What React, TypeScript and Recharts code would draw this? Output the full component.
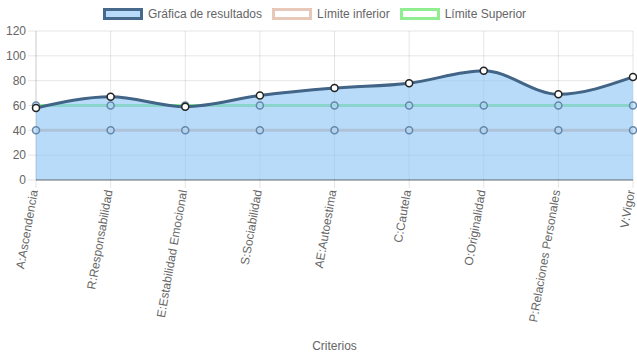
import { AreaChart, Area, XAxis, YAxis, CartesianGrid } from "recharts";

const criterios = [
  "A:Ascendencia",
  "R:Responsabilidad",
  "E:Estabilidad Emocional",
  "S:Sociabilidad",
  "AE:Autoestima",
  "C:Cautela",
  "O:Originalidad",
  "P:Relaciones Personales",
  "V:Vigor",
];
const resultados = [58, 67, 59, 68, 74, 78, 88, 69, 83];
const limiteInferior = [40, 40, 40, 40, 40, 40, 40, 40, 40];
const limiteSuperior = [60, 60, 60, 60, 60, 60, 60, 60, 60];
const yTicks = [0, 20, 40, 60, 80, 100, 120];

const data = criterios.map((name, i) => ({
  name,
  resultados: resultados[i],
  inferior: limiteInferior[i],
  superior: limiteSuperior[i],
}));

const FONT = "Arial, 'Liberation Sans', sans-serif";
const TEXT = "#666";

// limit dots sit under the results fill in the original, so they look tinted
const limitDot = { r: 3.5, fill: "rgb(183,219,249)", stroke: "rgb(100,135,170)", strokeWidth: 1.5 };

const legendItems = [
  { label: "Gráfica de resultados", fill: "rgba(135,195,245,0.6)", border: "rgb(70,105,140)" },
  { label: "Límite inferior", fill: "#fff", border: "rgb(232,200,185)" },
  { label: "Límite Superior", fill: "#fff", border: "rgb(144,238,144)" },
];

const AngledTick = (props: any) => {
  const { x, y, payload } = props;
  return (
    <text
      transform={`translate(${x - 2},${y}) rotate(-80)`}
      textAnchor="end"
      dominantBaseline="central"
      fontSize={12}
      fill={TEXT}
      fontFamily={FONT}
    >
      {payload.value}
    </text>
  );
};

export default function App() {
  return (
    <div style={{ position: "absolute", left: 0, top: 0, width: 637, height: 359, fontFamily: FONT }}>
      <div
        style={{
          position: "absolute",
          top: 8,
          left: -4,
          width: 637,
          display: "flex",
          justifyContent: "center",
          fontSize: 12,
          color: TEXT,
          lineHeight: "12px",
        }}
      >
        {legendItems.map((it) => (
          <div key={it.label} style={{ display: "flex", alignItems: "center", margin: "0 5px" }}>
            <span
              style={{
                display: "inline-block",
                width: 40,
                height: 12,
                boxSizing: "border-box",
                background: it.fill,
                border: `3px solid ${it.border}`,
                marginRight: 5,
              }}
            />
            <span>{it.label}</span>
          </div>
        ))}
      </div>
      <AreaChart width={637} height={359} data={data} margin={{ top: 31, right: 4, bottom: 9, left: 0 }}>
        <CartesianGrid stroke="rgba(0,0,0,0.1)" />
        <XAxis
          dataKey="name"
          interval={0}
          height={170}
          tick={<AngledTick />}
          tickSize={8}
          tickMargin={2}
          tickLine={{ stroke: "rgba(0,0,0,0.1)" }}
          axisLine={{ stroke: "rgba(0,0,0,0.25)", strokeWidth: 2 }}
          label={{ value: "Criterios", position: "insideBottom", offset: 0, fill: TEXT, fontSize: 12, fontFamily: FONT }}
        />
        <YAxis
          width={36}
          domain={[0, 120]}
          ticks={yTicks}
          tickSize={8}
          tickMargin={2}
          tickLine={{ stroke: "rgba(0,0,0,0.1)" }}
          axisLine={{ stroke: "rgba(0,0,0,0.1)" }}
          tick={{ fill: TEXT, fontSize: 12, fontFamily: FONT }}
        />
        <Area
          dataKey="inferior"
          type="linear"
          stroke="rgb(232,194,176)"
          strokeWidth={3}
          fill="none"
          dot={limitDot}
          isAnimationActive={false}
        />
        <Area
          dataKey="superior"
          type="linear"
          stroke="rgb(144,238,144)"
          strokeWidth={3}
          fill="none"
          dot={limitDot}
          isAnimationActive={false}
        />
        <Area
          dataKey="resultados"
          type="monotone"
          stroke="rgb(65,100,135)"
          strokeWidth={3}
          fill="rgb(135,195,245)"
          fillOpacity={0.6}
          dot={{ r: 3.5, fill: "#fff", stroke: "#222", strokeWidth: 1.5, fillOpacity: 1 }}
          isAnimationActive={false}
        />
      </AreaChart>
    </div>
  );
}
